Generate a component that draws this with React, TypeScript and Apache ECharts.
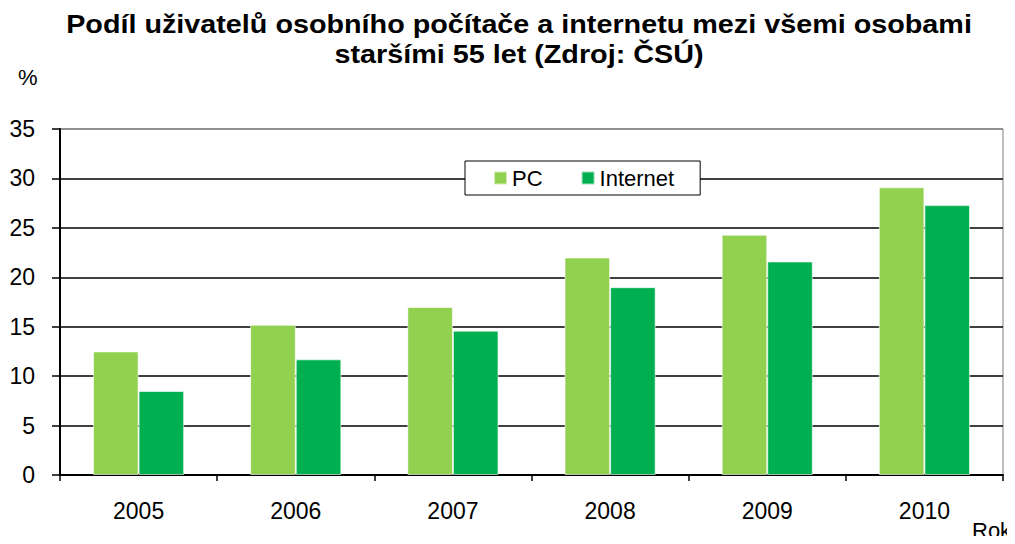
import React, { useEffect, useRef } from "react";
import * as echarts from "echarts";

const years = ["2005", "2006", "2007", "2008", "2009", "2010"];
const pcValues = [12.5, 15.2, 17.0, 22.0, 24.3, 29.1];
const internetValues = [8.5, 11.7, 14.6, 19.0, 21.6, 27.3];
const seriesNames = ["PC", "Internet"];
const titleText = "Podíl uživatelů osobního počítače a internetu mezi všemi osobami\nstaršími 55 let (Zdroj: ČSÚ)";

const FONT = "Arial, 'Liberation Sans', sans-serif";

export default function App() {
  const ref = useRef<HTMLDivElement>(null);
  useEffect(() => {
    if (!ref.current) return;
    const chart = echarts.init(ref.current, null, { renderer: "svg" });
    chart.setOption({
      animation: false,
      backgroundColor: "#fff",
      legend: {
        data: seriesNames,
        left: 465,
        top: 161,
        icon: "rect",
        itemWidth: 13,
        itemHeight: 13,
        itemGap: 38,
        padding: [6, 26, 6, 28],
        backgroundColor: "#fff",
        borderColor: "#000",
        borderWidth: 1,
        borderRadius: 0,
        textStyle: { fontFamily: FONT, fontSize: 22, color: "#000" },
      },
      grid: {
        left: 60,
        right: 12,
        top: 129,
        bottom: 69,
        show: true,
        borderColor: "#808080",
        borderWidth: 1,
        backgroundColor: "transparent",
      },
      graphic: [
        {
          type: "text",
          x: 519,
          y: 10,
          scaleX: 1.15,
          style: {
            text: titleText,
            textAlign: "center",
            fontFamily: FONT,
            fontSize: 25,
            fontWeight: "bold",
            lineHeight: 30,
            fill: "#000",
          },
        },
        { type: "text", x: 18, y: 66, style: { text: "%", fontFamily: FONT, fontSize: 22, fill: "#000" } },
        { type: "text", x: 972, y: 519, style: { text: "Rok", fontFamily: FONT, fontSize: 22, fill: "#000" } },
      ],
      xAxis: {
        type: "category",
        data: years,
        axisLine: { lineStyle: { color: "#000", width: 2 } },
        axisTick: { show: true, length: 6, lineStyle: { color: "#000", width: 1.5 } },
        axisLabel: { fontFamily: FONT, fontSize: 23, color: "#000", margin: 24 },
      },
      yAxis: {
        type: "value",
        min: 0,
        max: 35,
        interval: 5,
        axisLine: { show: true, lineStyle: { color: "#000", width: 2 } },
        axisTick: { show: true, length: 8, lineStyle: { color: "#000", width: 1.5 } },
        axisLabel: { fontFamily: FONT, fontSize: 23, color: "#000", margin: 25 },
        splitLine: {
          lineStyle: {
            color: ["#000", "#000", "#000", "#000", "#000", "#000", "#000", "#808080"],
            width: 1.5,
          },
        },
      },
      series: [
        {
          name: seriesNames[0],
          type: "bar",
          data: pcValues,
          barGap: "0%",
          barCategoryGap: "42%",
          itemStyle: { color: "#92D050", borderColor: "rgba(255,255,255,0.6)", borderWidth: 1 },
        },
        {
          name: seriesNames[1],
          type: "bar",
          data: internetValues,
          itemStyle: { color: "#00B050", borderColor: "rgba(255,255,255,0.6)", borderWidth: 1 },
        },
      ],
    });
    return () => chart.dispose();
  }, []);
  return <div ref={ref} style={{ width: 1015, height: 544, margin: -8 }} />;
}
